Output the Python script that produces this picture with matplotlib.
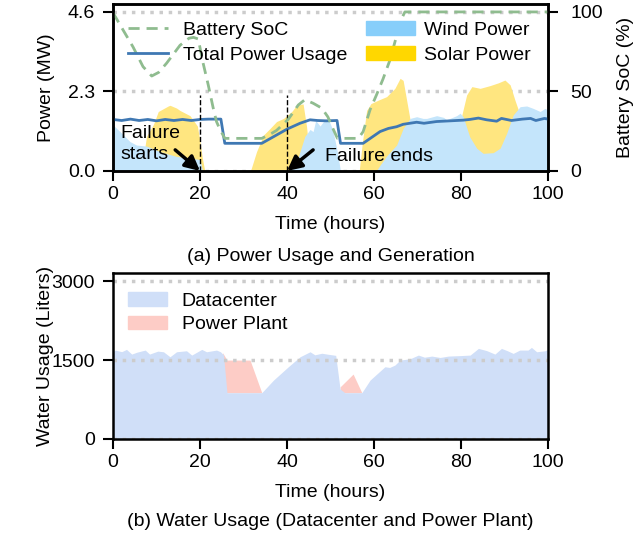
import matplotlib
matplotlib.use('Agg')
import matplotlib.pyplot as plt
from matplotlib.lines import Line2D
from matplotlib.patches import Patch

plt.rcParams['font.family'] = ['Liberation Sans', 'DejaVu Sans']
plt.rcParams['font.size'] = 14

# (a) power usage and generation
power_t = [0, 2, 4, 6, 8, 10, 12, 14, 16, 18, 20, 22, 24.8, 25.7, 34.2, 40, 43, 45.3,
           47, 49, 51.5, 52.3, 57.5, 61.4, 63.3, 65.2, 66.7, 69.8, 71.5, 74.4, 77.5,
           80.5, 82, 84, 85.9, 88.2, 89.3, 91.6, 94.1, 96, 97.2, 99.2, 100]
power_mw = [1.49, 1.46, 1.50, 1.46, 1.49, 1.45, 1.49, 1.46, 1.49, 1.46, 1.49, 1.50, 1.50,
            0.80, 0.80, 1.21, 1.38, 1.48, 1.46, 1.45, 1.46, 0.80, 0.80, 1.14, 1.23,
            1.28, 1.35, 1.41, 1.38, 1.43, 1.45, 1.47, 1.49, 1.53, 1.48, 1.44, 1.52,
            1.46, 1.50, 1.52, 1.46, 1.52, 1.50]

soc_t = [0, 2.3, 4.6, 6.9, 8.9, 10.5, 12.3, 15.4, 17.5, 18.5, 19.6, 20.7, 21.9, 23.0,
         23.8, 24.6, 25.7, 34.2, 36.5, 37.6, 40.3, 42.6, 44.1, 46, 48, 49.4, 50.5,
         51.6, 56.4, 57.5, 59.1, 60.6, 62.1, 63.7, 65, 66.4, 67.1, 100]
soc_pct = [99.5, 88.7, 78, 65.6, 59.7, 62, 67.7, 79, 83.5, 84, 83, 68, 54, 40, 31, 26,
           20.5, 20.5, 23.7, 25.5, 32.5, 41.5, 44.8, 42.6, 39.5, 34, 27, 20.5, 20.5,
           24.7, 38.5, 48, 58, 70, 83, 96, 100, 100]

wind_t = [0, 1.6, 3.9, 5.4, 7.7, 10.8, 14.6, 18.5, 20, 20.6, 40.5, 40.7, 42.6, 44.1,
          45.3, 46, 46.6, 47.6, 48.5, 49.5, 50.5, 51.5, 52.3, 60.5, 61.4, 63, 65.2,
          66.7, 68.3, 69.8, 71.3, 72.1, 74.4, 76, 76.7, 79, 79.8, 80.5, 82, 83.6,
          85.1, 87.4, 89, 90.5, 92, 93.6, 95.1, 96.6, 98.2, 99.3, 100]
wind_mw = [1.33, 1.14, 0.85, 0.75, 0.72, 0.56, 0.42, 0.36, 0.33, 0, 0, 0.08, 0.41, 1.0,
           1.2, 1.14, 1.46, 1.3, 1.45, 1.5, 1.2, 0.6, 0, 0, 0.17, 0.45, 0.75,
           1.23, 1.52, 1.57, 1.52, 1.52, 1.6, 1.55, 1.48, 1.6, 1.67, 1.57, 0.99, 0.66,
           0.51, 0.53, 0.66, 1.09, 1.62, 1.86, 1.88, 1.81, 1.72, 1.81, 1.76]

solar_t = [0, 6.5, 7.7, 9.3, 10.4, 12.7, 13.1, 14.6, 15.4, 17.7, 19.4, 20, 20.5, 21.1,
           31.6, 33, 34.6, 36.1, 37.6, 39.2, 41.1, 42.2, 43.7, 44.5, 45.5, 56.6,
           57.3, 58.3, 59.3, 61, 62.9, 64.8, 66, 66.7, 67.5, 68.3, 69, 69.5, 79.3,
           80.2, 81.3, 82.5, 84.4, 86.7, 88.6, 90.1, 91.3, 92.4, 93.2, 94, 95, 100]
solar_mw = [0, 0, 1.0, 1.35, 1.72, 1.88, 1.9, 1.82, 1.75, 1.6, 1.3, 0.85, 0.4, 0,
            0, 0.56, 1.04, 1.23, 1.43, 1.52, 1.72, 1.9, 1.94, 1.28, 0, 0,
            0.8, 1.75, 1.95, 2.05, 2.15, 2.39, 2.68, 2.62, 2.05, 1.48, 1.0, 0, 0,
            1.62, 2.2, 2.44, 2.39, 2.47, 2.55, 2.63, 2.49, 2.05, 1.76, 1.3, 0, 0]

# (b) water usage
dc_t = [0, 0.5, 2, 3.1, 4.3, 5.5, 7.4, 8.4, 10.3, 11.6, 13.1, 14.6, 16.9, 18.1, 20.4,
        21.5, 23.8, 24.7, 25.4, 26.2, 34.2, 36.9, 40.3, 43, 45.3, 46.4, 48, 49.5, 51.2,
        52.2, 53.3, 57.2, 59.1, 62.5, 63.6, 64.8, 66, 68.3, 70.2, 71.6, 73.3, 75.2,
        77.1, 79.8, 82.1, 84, 85.9, 87.8, 89.3, 90.6, 92, 93.5, 95.4, 96.2, 97.4,
        99.3, 100]
dc_l = [1660, 1690, 1660, 1703, 1614, 1650, 1690, 1614, 1670, 1658, 1563, 1658, 1677,
        1595, 1703, 1658, 1690, 1658, 1600, 880, 880, 1120, 1373, 1563, 1658, 1600,
        1630, 1610, 1590, 950, 880, 880, 1120, 1373, 1360, 1405, 1500, 1525, 1595,
        1555, 1576, 1550, 1576, 1585, 1595, 1722, 1680, 1614, 1722, 1680, 1627, 1690,
        1690, 1741, 1658, 1677, 1703]
pp_t = [25.2, 26.2, 31.5, 34.2]
pp_total = [1640, 1500, 1500, 880]
pp2_t = [52.2, 55.2, 57.2]
pp2_total = [990, 1234, 880]

wind_c = '#c4e5fb'
solar_c = '#ffe680'
dc_c = '#d0dff8'
pp_c = '#fdccc6'
power_c = '#3f78b3'
soc_c = '#8fbc8f'

fig = plt.figure(figsize=(6.41, 5.37), dpi=100)
ax = fig.add_axes([0.1763, 0.6816, 0.6786, 0.311])
ax2 = ax.twinx()
axb = fig.add_axes([0.1763, 0.1825, 0.6786, 0.3086])

# top panel
ax.set_axisbelow(True)
ax.fill_between(solar_t, 0, solar_mw, color=solar_c, lw=0, zorder=1)
ax.fill_between(wind_t, 0, wind_mw, color=wind_c, lw=0, zorder=1.2)
ax.plot(power_t, power_mw, color=power_c, lw=2, zorder=3)
ax.vlines([20, 40], 0, 2.2, colors='black', linestyles='--', lw=1, zorder=4)
ax2.plot(soc_t, soc_pct, color=soc_c, lw=2, ls=(0, (4, 2.5)))

ax.set_xlim(0, 100)
ax.set_ylim(0, 4.6 * 1.05)
ax2.set_ylim(0, 105)
ax.set_yticks([0, 2.3, 4.6])
ax.set_yticklabels(['0.0', '2.3', '4.6'])
ax2.set_yticks([0, 50, 100])
ax.set_xticks(range(0, 101, 20))
ax.yaxis.grid(True, ls=':', lw=2.5, color='#cccccc')
ax.set_xlabel('Time (hours)', labelpad=10)
ax.set_ylabel('Power (MW)', labelpad=9)
ax2.set_ylabel('Battery SoC (%)', labelpad=10)

ax.text(1.6, 0.78, 'Failure\nstarts', ha='left', va='center', zorder=5,
        linespacing=1.3)
ax.text(48.7, 0.41, 'Failure ends', ha='left', va='center', zorder=5)
arrow = dict(arrowstyle='-|>', color='black', lw=2.5, mutation_scale=22,
             shrinkA=0, shrinkB=0)
ax.annotate('', xy=(20, 0), xytext=(14.3, 0.61), arrowprops=arrow, zorder=5)
ax.annotate('', xy=(40, 0), xytext=(46, 0.61), arrowprops=arrow, zorder=5)

h_lines = [Line2D([], [], color=soc_c, lw=2, ls=(0, (4, 2.5))),
           Line2D([], [], color=power_c, lw=2)]
leg1 = ax2.legend(h_lines, ['Battery SoC', 'Total Power Usage'], loc='upper left',
                  bbox_to_anchor=(-0.005, 1.0), frameon=False, handlelength=2.05,
                  handletextpad=0.75, labelspacing=0.38)
ax2.add_artist(leg1)
h_fill = [Patch(color='#87cefa'), Patch(color='#ffd700')]
ax2.legend(h_fill, ['Wind Power', 'Solar Power'], loc='upper right',
           bbox_to_anchor=(1.0, 1.0), frameon=False, handlelength=2.5,
           handletextpad=0.45, labelspacing=0.38)

# bottom panel
axb.fill_between(pp_t, 880, pp_total, color=pp_c, lw=0)
axb.fill_between(pp2_t, 880, pp2_total, color=pp_c, lw=0)
axb.fill_between(dc_t, 0, dc_l, color=dc_c, lw=0)
axb.set_xlim(0, 100)
axb.set_ylim(0, 3150)
axb.set_yticks([0, 1500, 3000])
axb.set_xticks(range(0, 101, 20))
axb.yaxis.grid(True, ls=':', lw=2.5, color='#cccccc')
axb.set_xlabel('Time (hours)', labelpad=10)
axb.set_ylabel('Water Usage (Liters)', labelpad=-2)
axb.legend([Patch(color=dc_c), Patch(color=pp_c)], ['Datacenter', 'Power Plant'],
           loc='upper left', bbox_to_anchor=(-0.005, 0.99), frameon=False,
           handlelength=2.0, handletextpad=0.75, labelspacing=0.3)

for a in (ax, ax2, axb):
    for s in a.spines.values():
        s.set_linewidth(1.8)
    a.tick_params(width=1.5, length=7)
ax2.tick_params(pad=9)
ax.tick_params(axis='y', pad=6)
axb.tick_params(axis='y', pad=6)

fig.text(0.5156, 0.523, '(a) Power Usage and Generation', ha='center', va='center')
fig.text(0.5156, 0.028, '(b) Water Usage (Datacenter and Power Plant)', ha='center',
         va='center')

fig.savefig('out.png', dpi=100)
